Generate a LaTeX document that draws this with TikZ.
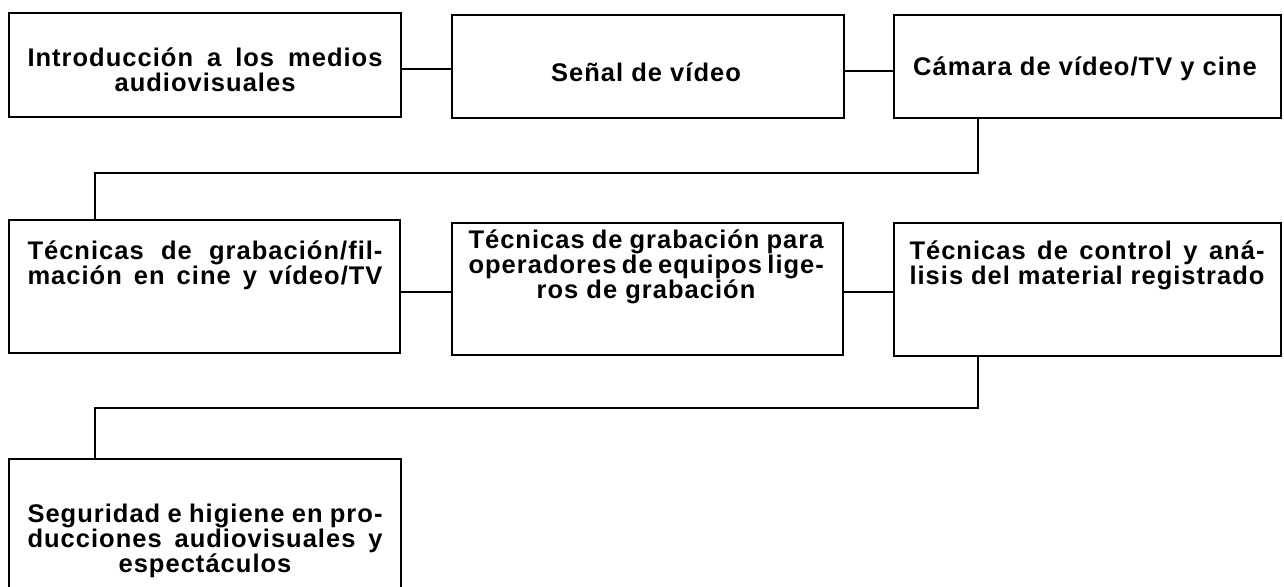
\documentclass[tikz,border=0pt]{standalone}
\usepackage{fontspec}
\newfontfamily\lab[LetterSpace=4.0]{Liberation Sans}
\newcommand{\J}[1]{\makebox[355pt][s]{#1}}
\begin{document}
\begin{tikzpicture}[x=1pt,y=-1pt,
  box/.style={draw, line width=1.6pt, inner sep=0pt, anchor=north west},
  txt/.style={align=center, inner sep=0pt, font=\lab\bfseries\fontsize{25.5}{25}\selectfont},
  conn/.style={line width=1.6pt}]
\useasboundingbox (0,0) rectangle (1284,586);
\begin{scope}
\clip (0,0) rectangle (1284,586);
\node[box, minimum width=392pt, minimum height=104pt] (a) at (8,12) {};
\node[box, minimum width=392pt, minimum height=103pt] (b) at (451,14) {};
\node[box, minimum width=387pt, minimum height=103pt] (c) at (893,14) {};
\node[box, minimum width=391pt, minimum height=133pt] (d) at (8,219) {};
\node[box, minimum width=391pt, minimum height=132pt] (e) at (451,222) {};
\node[box, minimum width=387pt, minimum height=133pt] (f) at (893,222) {};
\node[box, minimum width=392pt, minimum height=150pt] (g) at (8,458) {};
\end{scope}
\node[txt] (ta) at (205,70) {\J{Introducción a los medios}\\ audiovisuales};
\node[txt] (tb) at (646,72) {Señal de vídeo};
\node[txt] (tc) at (1085,69) {Cámara de vídeo/TV y cine};
\node[txt] (td) at (205,265) {\J{Técnicas de grabación/fil-}\\ \J{mación en cine y vídeo/TV}};
\node[txt] (te) at (646,267) {\J{Técnicas de grabación para}\\ \J{operadores de equipos lige-}\\ ros de grabación};
\node[txt] (tf) at (1087,265) {\J{Técnicas de control y aná-}\\ \J{lisis del material registrado}};
\node[txt] (tg) at (205,541) {\J{Seguridad e higiene en pro-}\\ \J{ducciones audiovisuales y}\\ espectáculos};
\draw[conn] (a.east |- 0,69) -- (b.west |- 0,69);
\draw[conn] (b.east |- 0,71) -- (c.west |- 0,71);
\draw[conn] (d.east |- 0,292) -- (e.west |- 0,292);
\draw[conn] (e.east |- 0,292) -- (f.west |- 0,292);
\draw[conn] (978,0 |- c.south) |- (95,173) -- (95,0 |- d.north);
\draw[conn] (978,0 |- f.south) |- (95,408) -- (95,0 |- g.north);
\end{tikzpicture}
\end{document}
